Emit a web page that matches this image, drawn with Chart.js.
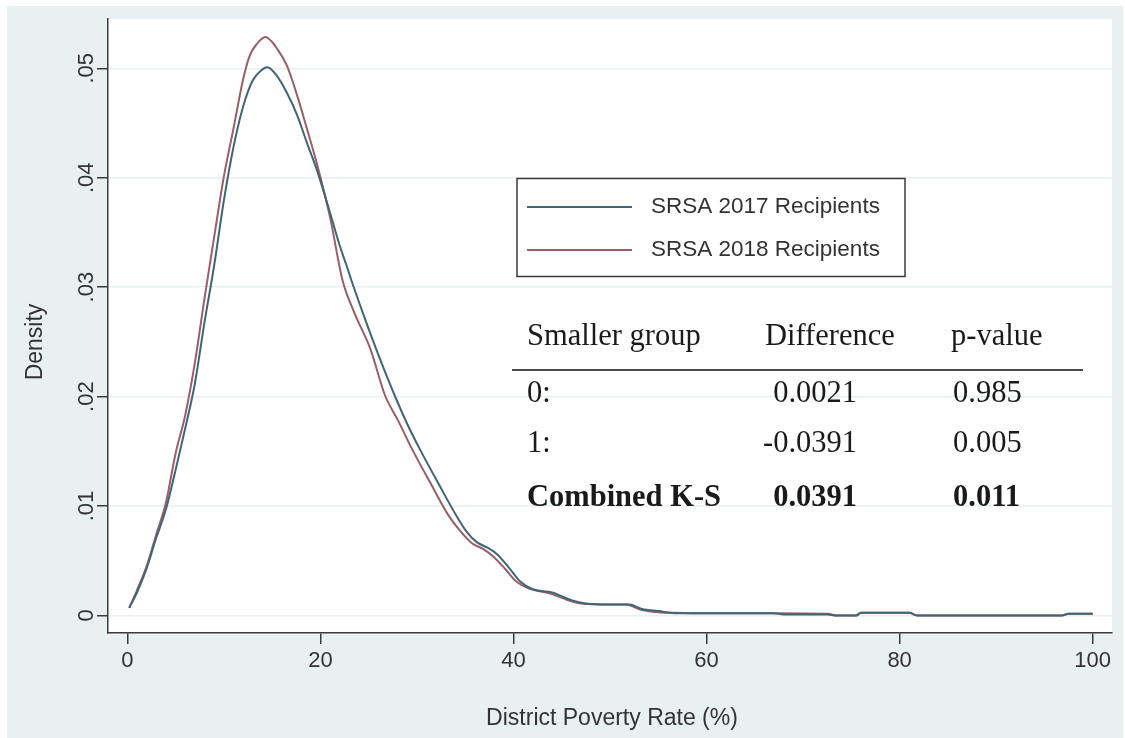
<!DOCTYPE html>
<html>
<head>
<meta charset="utf-8">
<title>District Poverty Rate density</title>
<script src="https://cdn.jsdelivr.net/npm/chart.js@4/dist/chart.umd.min.js"></script>
<style>
  html, body { margin: 0; padding: 0; background: #ffffff; }
  #wrap { position: relative; width: 1125px; height: 738px; }
  canvas { display: block; }
</style>
</head>
<body>
<div id="wrap"><canvas id="c" width="1125" height="738"></canvas></div>
<script>
// Kernel density of district poverty rate, SRSA 2017 recipients
const poverty2017 = [0.2, 1, 2, 3, 4, 5, 6, 7, 8, 9, 10, 11, 12, 13, 14, 14.5, 15.5, 16.5, 17.6, 18.6, 19.6, 21.0, 22.0, 22.7, 23.3, 24.5, 25.8, 27.7, 29.0, 30.3, 32.2, 34.1, 35.2, 36.2, 37.3, 38.3, 39.5, 40.7, 42.0, 44.0, 46.0, 47.5, 50.0, 52.0, 53.3, 55.0, 57.0, 60.0, 67.0, 68.0, 72.5, 73.5, 75.5, 76.0, 81.0, 81.8, 96.8, 97.5, 100];
const density2017 = [0.0007, 0.0021, 0.0043, 0.0071, 0.0097, 0.0133, 0.0171, 0.0212, 0.0268, 0.0320, 0.0379, 0.0428, 0.0465, 0.0489, 0.0499, 0.0501, 0.0493, 0.0478, 0.0457, 0.0432, 0.0408, 0.0368, 0.0338, 0.0320, 0.0304, 0.0274, 0.0243, 0.0201, 0.0175, 0.0152, 0.0121, 0.0091, 0.0076, 0.0067, 0.0062, 0.0056, 0.0044, 0.0031, 0.0024, 0.0021, 0.0014, 0.0011, 0.0010, 0.0010, 0.0006, 0.0004, 0.0002, 0.0002, 0.0002, 0.0001, 0.0001, 0.0000, 0.0000, 0.00025, 0.00025, 0.0000, 0.0000, 0.00015, 0.00015];

// SRSA 2018 recipients
const poverty2018 = [0.2, 1, 2, 3, 4, 5, 6, 7, 8, 9, 10, 11, 12, 12.7, 13.4, 14.3, 15.0, 15.5, 16.5, 17.6, 18.6, 19.6, 21.0, 22.3, 23.5, 25.2, 26.7, 28.0, 29.5, 31.4, 33.3, 34.5, 35.7, 36.8, 37.9, 39.2, 40.3, 41.5, 43.8, 46.0, 47.0, 50.0, 51.7, 53.1, 55.0, 56.6, 60.0, 67.0, 72.6, 73.5, 75.5, 76.0, 81.0, 81.8, 96.8, 97.5, 100];
const density2018 = [0.0007, 0.0023, 0.0045, 0.0074, 0.0103, 0.0148, 0.0183, 0.0231, 0.0290, 0.0346, 0.0401, 0.0445, 0.0490, 0.0512, 0.0522, 0.05285, 0.0524, 0.0518, 0.0503, 0.0475, 0.0445, 0.0414, 0.0364, 0.0306, 0.0277, 0.0243, 0.0201, 0.0179, 0.0152, 0.0121, 0.0091, 0.0077, 0.0066, 0.0061, 0.0054, 0.0042, 0.0031, 0.0025, 0.0020, 0.0013, 0.0011, 0.0010, 0.0010, 0.00055, 0.0003, 0.00025, 0.0002, 0.0002, 0.00015, 0.0000, 0.0000, 0.00025, 0.00025, 0.0000, 0.0000, 0.00015, 0.00015];

const seriesLabels = ['SRSA 2017 Recipients', 'SRSA 2018 Recipients'];
const xTickValues = [0, 20, 40, 60, 80, 100];
const yTickValues = [0, 0.01, 0.02, 0.03, 0.04, 0.05];
const yTickLabels = ['0', '.01', '.02', '.03', '.04', '.05'];
const xTitle = 'District Poverty Rate (%)';
const yTitle = 'Density';

// Two-sample Kolmogorov-Smirnov test summary
const tableHeader = ['Smaller group', 'Difference', 'p-value'];
const groupLabels = ['0:', '1:', 'Combined K-S'];
const differences = ['0.0021', '-0.0391', '0.0391'];
const pValues = ['0.985', '0.005', '0.011'];

const BLUE = '#3f6577';
const RED = '#9b5e66';
const AXIS = '#3a3a3a';
const SANS = '"Liberation Sans", Arial, sans-serif';
const SERIF = '"Liberation Serif", "Times New Roman", serif';

function toPoints(xs, ys) { return xs.map((x, i) => ({ x: x, y: ys[i] })); }

const backdrop = {
  id: 'backdrop',
  beforeDraw(chart) {
    const ctx = chart.ctx, a = chart.chartArea;
    ctx.save();
    ctx.fillStyle = '#ffffff';
    ctx.fillRect(0, 0, chart.width, chart.height);
    ctx.fillStyle = '#e9f0f2';
    ctx.fillRect(7, 6, chart.width - 9, chart.height - 6);
    ctx.fillStyle = '#ffffff';
    ctx.fillRect(a.left, a.top, a.right - a.left, a.bottom - a.top);
    ctx.restore();
  }
};

const annotations = {
  id: 'annotations',
  afterDraw(chart) {
    const ctx = chart.ctx, a = chart.chartArea, ys = chart.scales.y;
    ctx.save();
    ctx.fillStyle = '#333333';
    // vertical tick labels on the density axis
    ctx.font = '22px ' + SANS;
    ctx.textAlign = 'center';
    ctx.textBaseline = 'middle';
    yTickValues.forEach((v, i) => {
      const py = ys.getPixelForValue(v);
      ctx.save();
      ctx.translate(87, py);
      ctx.rotate(-Math.PI / 2);
      ctx.fillText(yTickLabels[i], 0, 0);
      ctx.restore();
    });
    // axis titles
    ctx.font = '23px ' + SANS;
    ctx.save();
    ctx.translate(36, 342);
    ctx.rotate(-Math.PI / 2);
    ctx.fillText(yTitle, 0, 0);
    ctx.restore();
    ctx.fillText(xTitle, (a.left + a.right) / 2 + 2, 719);

    // legend box
    ctx.font = '22.5px ' + SANS;
    ctx.strokeStyle = AXIS;
    ctx.lineWidth = 1.5;
    ctx.strokeRect(517, 178.5, 388, 98);
    const rows = [207, 250];
    const colors = [BLUE, RED];
    ctx.textAlign = 'left';
    rows.forEach((ry, i) => {
      ctx.strokeStyle = colors[i];
      ctx.lineWidth = 2;
      ctx.beginPath();
      ctx.moveTo(527, ry);
      ctx.lineTo(632, ry);
      ctx.stroke();
      ctx.fillStyle = '#333333';
      ctx.fillText(seriesLabels[i], 651, ry);
    });

    // K-S test table
    ctx.fillStyle = '#1a1a1a';
    ctx.textBaseline = 'middle';
    ctx.font = '30.5px ' + SERIF;
    ctx.textAlign = 'left';
    ctx.fillText(tableHeader[0], 527, 337);
    ctx.fillText(tableHeader[1], 765, 337);
    ctx.fillText(tableHeader[2], 951, 337);
    ctx.strokeStyle = '#4a4a4a';
    ctx.lineWidth = 2;
    ctx.beginPath();
    ctx.moveTo(512, 370);
    ctx.lineTo(1083, 370);
    ctx.stroke();
    const rowY = [394, 444, 498];
    groupLabels.forEach((g, i) => {
      ctx.font = (i === 2 ? 'bold ' : '') + '30.5px ' + SERIF;
      ctx.textAlign = 'left';
      ctx.fillText(g, 527, rowY[i]);
      ctx.textAlign = 'right';
      ctx.fillText(differences[i], 857, rowY[i]);
      ctx.textAlign = 'left';
      ctx.fillText(pValues[i], 953, rowY[i]);
    });
    ctx.restore();
  }
};

new Chart(document.getElementById('c'), {
  type: 'line',
  data: {
    datasets: [
      { label: seriesLabels[0], data: toPoints(poverty2017, density2017), borderColor: BLUE, borderWidth: 2, pointRadius: 0, cubicInterpolationMode: 'monotone', fill: false },
      { label: seriesLabels[1], data: toPoints(poverty2018, density2018), borderColor: RED, borderWidth: 2, pointRadius: 0, cubicInterpolationMode: 'monotone', fill: false }
    ]
  },
  options: {
    responsive: false,
    animation: false,
    events: [],
    layout: { padding: { top: 19, right: 13, left: 0, bottom: 0 } },
    plugins: { legend: { display: false }, tooltip: { enabled: false }, title: { display: false } },
    scales: {
      x: {
        type: 'linear',
        min: -2,
        max: 102,
        afterBuildTicks(scale) { scale.ticks = xTickValues.map(v => ({ value: v })); },
        afterFit(scale) { scale.height = 105; },
        border: { display: true, color: AXIS, width: 1.5 },
        grid: { drawOnChartArea: false, drawTicks: true, tickLength: 11, tickColor: AXIS, lineWidth: 1.5 },
        ticks: { color: '#333333', font: { family: SANS, size: 22 }, padding: 4, maxRotation: 0, callback: v => String(v) }
      },
      y: {
        type: 'linear',
        min: -0.0016,
        max: 0.0545,
        afterBuildTicks(scale) { scale.ticks = yTickValues.map(v => ({ value: v })); },
        afterFit(scale) { scale.width = 108; },
        border: { display: true, color: AXIS, width: 1.5 },
        grid: { drawOnChartArea: true, color: '#e8eff0', lineWidth: 1.5, drawTicks: true, tickLength: 11, tickColor: AXIS },
        ticks: { display: false }
      }
    }
  },
  plugins: [backdrop, annotations]
});
</script>
</body>
</html>
